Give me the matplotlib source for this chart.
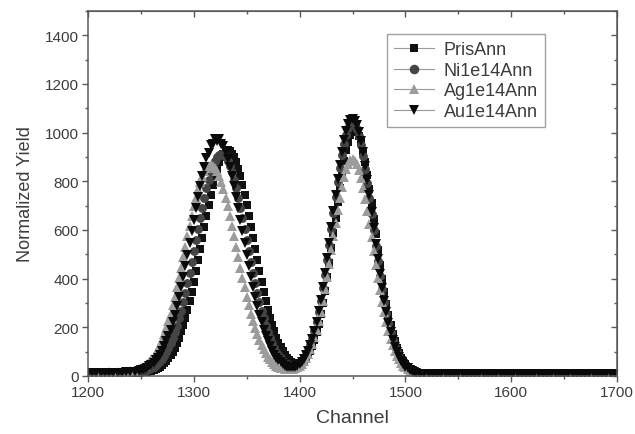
import numpy as np
import matplotlib
matplotlib.use("Agg")
import matplotlib.pyplot as plt
from matplotlib.lines import Line2D
from matplotlib.ticker import MultipleLocator

plt.rcParams['font.family'] = ['Liberation Sans', 'DejaVu Sans']

# channel grids (left baseline, peak region, right baseline)
ch_left = np.arange(1200, 1249, 4)     # 13
ch_peak = np.arange(1250, 1511, 2)     # 131
ch_right = np.arange(1514, 1699, 4)    # 47

series_names = ["PrisAnn", "Ni1e14Ann", "Ag1e14Ann", "Au1e14Ann"]

pris_left = [12, 11, 13, 12, 12, 11, 12, 13, 12, 12, 13, 13, 14]
pris_peak = [15, 16, 17, 18, 20, 22, 25, 29, 33, 38,
             45, 52, 61, 72, 85, 100, 117, 136, 158, 183,
             210, 240, 273, 309, 347, 388, 431, 475, 521, 567,
             613, 659, 703, 745, 784, 820, 851, 878, 899, 914,
             924, 927, 924, 914, 899, 878, 851, 820, 784, 745,
             703, 659, 613, 567, 521, 475, 431, 388, 347, 309,
             273, 240, 210, 183, 158, 136, 118, 101, 87, 76,
             66, 59, 54, 51, 51, 52, 56, 63, 73, 87,
             104, 125, 150, 180, 215, 255, 300, 350, 405, 463,
             524, 587, 651, 714, 774, 831, 883, 927, 963, 990,
             1006, 1010, 1004, 987, 960, 923, 879, 827, 770, 709,
             646, 583, 519, 458, 400, 345, 295, 250, 209, 174,
             143, 116, 94, 75, 60, 48, 38, 30, 24, 19,
             15]
pris_right = [12, 10, 9, 9, 8, 9, 8, 8, 9, 8,
              8, 9, 8, 7, 8, 9, 8, 8, 7, 8,
              8, 9, 8, 7, 8, 8, 9, 8, 8, 7,
              8, 8, 8, 9, 8, 7, 8, 8, 8, 7,
              8, 8, 7, 8, 8, 7, 8]

ni_left = [13, 12, 12, 13, 12, 13, 12, 12, 13, 14, 14, 15, 17]
ni_peak = [18, 20, 22, 25, 28, 33, 38, 44, 52, 61,
           71, 84, 98, 115, 134, 155, 180, 207, 237, 269,
           304, 342, 382, 424, 468, 513, 558, 603, 648, 691,
           733, 771, 806, 837, 863, 884, 900, 909, 912, 909,
           900, 884, 863, 837, 806, 771, 733, 691, 648, 603,
           558, 513, 468, 424, 382, 342, 304, 269, 237, 207,
           180, 155, 134, 115, 99, 85, 73, 63, 55, 49,
           45, 42, 42, 43, 46, 52, 60, 72, 86, 104,
           126, 153, 184, 221, 262, 308, 360, 416, 476, 539,
           604, 670, 734, 797, 856, 909, 955, 992, 1019, 1036,
           1041, 1034, 1016, 988, 951, 905, 852, 793, 730, 666,
           600, 535, 472, 412, 356, 304, 257, 216, 179, 147,
           120, 97, 78, 62, 49, 39, 31, 25, 20, 16,
           13]
ni_right = [10, 9, 8, 8, 9, 8, 8, 7, 8, 8,
            9, 8, 8, 7, 8, 8, 8, 9, 8, 8,
            7, 8, 8, 9, 8, 8, 7, 8, 8, 8,
            9, 8, 8, 7, 8, 8, 8, 9, 8, 7,
            8, 8, 8, 7, 8, 8, 7]

ag_left = [14, 13, 14, 13, 14, 15, 14, 15, 16, 17, 19, 22, 28]
ag_peak = [32, 37, 42, 50, 58, 68, 80, 94, 110, 128,
           148, 171, 197, 225, 256, 290, 325, 364, 403, 445,
           488, 531, 574, 616, 657, 697, 733, 767, 796, 821,
           841, 855, 864, 867, 864, 855, 841, 821, 796, 767,
           733, 697, 657, 616, 574, 531, 488, 445, 403, 364,
           325, 290, 256, 225, 197, 171, 148, 128, 110, 94,
           80, 68, 58, 50, 43, 38, 34, 31, 28, 28,
           28, 28, 30, 32, 36, 42, 50, 61, 73, 89,
           109, 132, 159, 190, 225, 265, 309, 357, 408, 462,
           518, 574, 629, 683, 733, 778, 817, 849, 873, 887,
           891, 885, 870, 846, 813, 774, 729, 679, 625, 570,
           514, 458, 404, 353, 305, 261, 221, 185, 154, 127,
           104, 84, 68, 54, 43, 35, 28, 22, 18, 15,
           12]
ag_right = [10, 9, 8, 8, 7, 8, 9, 8, 8, 9,
            8, 7, 8, 8, 9, 8, 8, 7, 9, 8,
            8, 8, 9, 8, 7, 8, 8, 9, 8, 8,
            7, 8, 8, 9, 8, 8, 8, 7, 8, 9,
            8, 8, 7, 8, 8, 9, 8]

au_left = [12, 13, 12, 12, 13, 12, 13, 13, 14, 15, 16, 18, 21]
au_peak = [23, 26, 29, 34, 40, 46, 54, 64, 75, 88,
           104, 122, 142, 165, 191, 220, 251, 286, 324, 364,
           407, 452, 498, 546, 594, 643, 690, 737, 781, 822,
           859, 897, 915, 948, 955, 975, 966, 972, 952, 945,
           920, 892, 859, 822, 781, 737, 690, 643, 594, 546,
           498, 452, 407, 364, 324, 286, 251, 220, 191, 165,
           142, 122, 104, 88, 76, 65, 56, 49, 43, 39,
           37, 36, 36, 39, 43, 50, 59, 71, 86, 104,
           127, 154, 186, 223, 266, 313, 365, 422, 483, 546,
           612, 679, 745, 808, 868, 922, 968, 1006, 1034, 1051,
           1057, 1048, 1031, 1003, 965, 919, 865, 805, 742, 676,
           609, 543, 479, 418, 361, 309, 261, 219, 181, 149,
           121, 98, 79, 63, 50, 39, 31, 25, 20, 16,
           13]
au_right = [10, 9, 8, 8, 8, 9, 8, 7, 8, 8,
            8, 9, 8, 8, 7, 8, 8, 9, 8, 8,
            8, 7, 8, 9, 8, 8, 8, 7, 8, 8,
            9, 8, 8, 8, 7, 8, 9, 8, 8, 8,
            7, 8, 8, 9, 8, 8, 8]

x_ticks = [1200, 1300, 1400, 1500, 1600, 1700]
y_ticks = [0, 200, 400, 600, 800, 1000, 1200, 1400]

channels = np.concatenate([ch_left, ch_peak, ch_right])
data = [pris_left + pris_peak + pris_right,
        ni_left + ni_peak + ni_right,
        ag_left + ag_peak + ag_right,
        au_left + au_peak + au_right]

styles = [dict(marker='s', color='#111111', ms=5.8),
          dict(marker='o', color='#454545', ms=6.4),
          dict(marker='^', color='#9c9c9c', ms=7.0),
          dict(marker='v', color='#0a0a0a', ms=7.0)]

fig = plt.figure(figsize=(6.35, 4.35), dpi=100)
ax = fig.add_axes([88/635, 58/435, 529/635, 365/435])

for vals, st in zip(data, styles):
    ax.plot(channels, vals, linestyle='none', marker=st['marker'],
            color=st['color'], markersize=st['ms'], markeredgewidth=0)

ax.set_xlim(1200, 1700)
ax.set_ylim(0, 1500)
ax.set_xticks(x_ticks)
ax.set_yticks(y_ticks)
ax.xaxis.set_minor_locator(MultipleLocator(50))
ax.yaxis.set_minor_locator(MultipleLocator(100))

tcol = '#3c3c3c'
scol = '#5a5a5a'
ax.tick_params(which='major', direction='out', length=4, width=1,
               color=scol, labelsize=11, labelcolor=tcol, pad=2.5)
ax.tick_params(which='minor', direction='out', length=2.5, width=1, color=scol)
for sp in ax.spines.values():
    sp.set_color(scol)
    sp.set_linewidth(1.1)

top = ax.secondary_xaxis('top')
top.set_xticks(x_ticks)
top.xaxis.set_minor_locator(MultipleLocator(50))
top.tick_params(which='both', direction='in', labeltop=False, color=scol, width=1)
top.tick_params(which='major', length=4)
top.tick_params(which='minor', length=2.5)
top.spines['top'].set_color(scol)
right = ax.secondary_yaxis('right')
right.set_yticks(y_ticks)
right.yaxis.set_minor_locator(MultipleLocator(100))
right.tick_params(which='both', direction='in', labelright=False, color=scol, width=1)
right.tick_params(which='major', length=4)
right.tick_params(which='minor', length=2.5)
right.spines['right'].set_color(scol)

ax.set_xlabel("Channel", fontsize=14, color=tcol, labelpad=7)
ax.set_ylabel("Normalized Yield", fontsize=13, color=tcol, labelpad=8)

handles = [Line2D([0], [0], color='#9a9a9a', lw=0.8, marker=st['marker'],
                  markerfacecolor=st['color'], markeredgewidth=0,
                  markersize=st['ms'] + 0.5)
           for st in styles]
leg = ax.legend(handles, series_names, loc='upper left',
                bbox_to_anchor=(0.565, 0.937), borderaxespad=0,
                fontsize=13, handlelength=2.2, handletextpad=0.55,
                labelspacing=0.2, borderpad=0.4, frameon=True,
                fancybox=False, edgecolor='#8a8a8a')
for t in leg.get_texts():
    t.set_color(tcol)
leg.get_frame().set_linewidth(1.0)

fig.savefig("out.png", dpi=100)
